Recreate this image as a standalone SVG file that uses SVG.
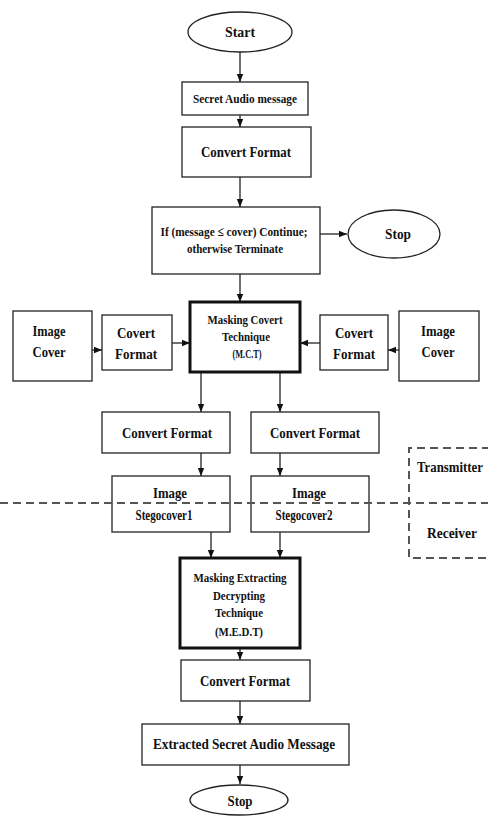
<svg xmlns="http://www.w3.org/2000/svg" width="488" height="816" viewBox="0 0 488 816">
<style>
  .box{fill:#fff;stroke:#222;stroke-width:1.3}
  .thick{fill:#fff;stroke:#111;stroke-width:3}
  .t{font-family:"Liberation Serif","Times New Roman",serif;font-weight:bold;fill:#111;text-anchor:middle}
  .s11{font-size:12px}.s12{font-size:13px}.s14{font-size:14px}.s15{font-size:15px}
  .ln{stroke:#222;stroke-width:1.3;fill:none;marker-end:url(#ah)}
  .dash{stroke:#555;stroke-width:2;fill:none;stroke-dasharray:8 5}
</style>
<defs>
  <marker id="ah" markerUnits="userSpaceOnUse" markerWidth="8" markerHeight="8" viewBox="0 0 8 8" refX="8" refY="4" orient="auto">
    <path d="M0,0.8 L8,4 L0,7.2 Z" fill="#111"/>
  </marker>
</defs>
<rect width="488" height="816" fill="#fff"/>

<g id="connectors">
  <line class="ln" x1="240" y1="52" x2="240" y2="82"/>
  <line class="ln" x1="240" y1="115" x2="240" y2="127"/>
  <line class="ln" x1="240" y1="177" x2="240" y2="207"/>
  <line class="ln" x1="320" y1="234" x2="347" y2="234"/>
  <line class="ln" x1="240" y1="274" x2="240" y2="302"/>
  <line class="ln" x1="92" y1="350" x2="102" y2="350"/>
  <line class="ln" x1="172" y1="343" x2="190" y2="343"/>
  <line class="ln" x1="320" y1="343" x2="300" y2="343"/>
  <line class="ln" x1="399" y1="350" x2="388" y2="350"/>
  <line class="ln" x1="201" y1="373" x2="201" y2="412"/>
  <line class="ln" x1="280" y1="373" x2="280" y2="412"/>
  <line class="ln" x1="201" y1="453" x2="201" y2="476"/>
  <line class="ln" x1="280" y1="453" x2="280" y2="476"/>
  <line class="ln" x1="211" y1="532" x2="211" y2="558"/>
  <line class="ln" x1="280" y1="532" x2="280" y2="558"/>
  <line class="ln" x1="240" y1="648" x2="240" y2="660"/>
  <line class="ln" x1="240" y1="701" x2="240" y2="724"/>
  <line class="ln" x1="240" y1="765" x2="240" y2="784"/>
</g>

<g id="start">
  <ellipse class="box" cx="240" cy="32" rx="52" ry="20"/>
  <text class="t s15" x="240" y="37" textLength="30" lengthAdjust="spacingAndGlyphs">Start</text>
</g>
<g id="secret">
  <rect class="box" x="182" y="82" width="126" height="33"/>
  <text class="t s12" x="245" y="103" textLength="104" lengthAdjust="spacingAndGlyphs">Secret Audio message</text>
</g>
<g id="convert1">
  <rect class="box" x="182" y="127" width="129" height="50"/>
  <text class="t s14" x="246" y="157" textLength="90" lengthAdjust="spacingAndGlyphs">Convert Format</text>
</g>
<g id="decision">
  <rect class="box" x="152" y="207" width="168" height="67"/>
  <text class="t s12" x="234" y="236" textLength="147" lengthAdjust="spacingAndGlyphs">If (message ≤ cover) Continue;</text>
  <text class="t s12" x="235" y="253" textLength="96" lengthAdjust="spacingAndGlyphs">otherwise Terminate</text>
</g>
<g id="stop1">
  <ellipse class="box" cx="394" cy="234" rx="46" ry="24"/>
  <text class="t s15" x="398" y="239" textLength="26" lengthAdjust="spacingAndGlyphs">Stop</text>
</g>
<g id="mct">
  <rect class="thick" x="190" y="302" width="110" height="70"/>
  <text class="t s11" x="245" y="324" textLength="75" lengthAdjust="spacingAndGlyphs">Masking Covert</text>
  <text class="t s11" x="246" y="341" textLength="48" lengthAdjust="spacingAndGlyphs">Technique</text>
  <text class="t s11" x="247" y="358" textLength="29" lengthAdjust="spacingAndGlyphs">(M.C.T)</text>
</g>
<g id="imgcover-left">
  <rect class="box" x="13" y="311" width="79" height="70"/>
  <text class="t s15" x="49" y="336" textLength="33" lengthAdjust="spacingAndGlyphs">Image</text>
  <text class="t s15" x="49" y="357" textLength="33" lengthAdjust="spacingAndGlyphs">Cover</text>
</g>
<g id="covert-left">
  <rect class="box" x="102" y="315" width="70" height="55"/>
  <text class="t s15" x="136" y="338" textLength="38" lengthAdjust="spacingAndGlyphs">Covert</text>
  <text class="t s15" x="136" y="359" textLength="42" lengthAdjust="spacingAndGlyphs">Format</text>
</g>
<g id="covert-right">
  <rect class="box" x="320" y="315" width="68" height="55"/>
  <text class="t s15" x="354" y="338" textLength="38" lengthAdjust="spacingAndGlyphs">Covert</text>
  <text class="t s15" x="354" y="359" textLength="42" lengthAdjust="spacingAndGlyphs">Format</text>
</g>
<g id="imgcover-right">
  <rect class="box" x="399" y="311" width="80" height="70"/>
  <text class="t s15" x="438" y="336" textLength="34" lengthAdjust="spacingAndGlyphs">Image</text>
  <text class="t s15" x="438" y="357" textLength="33" lengthAdjust="spacingAndGlyphs">Cover</text>
</g>
<g id="convert-left">
  <rect class="box" x="102" y="412" width="128" height="41"/>
  <text class="t s14" x="167" y="438" textLength="90" lengthAdjust="spacingAndGlyphs">Convert Format</text>
</g>
<g id="convert-right">
  <rect class="box" x="251" y="412" width="128" height="41"/>
  <text class="t s14" x="315" y="438" textLength="90" lengthAdjust="spacingAndGlyphs">Convert Format</text>
</g>
<g id="stego1">
  <rect class="box" x="112" y="476" width="118" height="56"/>
  <text class="t s15" x="170" y="498" textLength="34" lengthAdjust="spacingAndGlyphs">Image</text>
  <text class="t s15" x="164" y="520" textLength="57" lengthAdjust="spacingAndGlyphs">Stegocover1</text>
</g>
<g id="stego2">
  <rect class="box" x="251" y="476" width="118" height="56"/>
  <text class="t s15" x="309" y="498" textLength="34" lengthAdjust="spacingAndGlyphs">Image</text>
  <text class="t s15" x="304" y="520" textLength="57" lengthAdjust="spacingAndGlyphs">Stegocover2</text>
</g>
<g id="divider">
  <line class="dash" x1="0" y1="503" x2="488" y2="503"/>
  <path class="dash" d="M490,448 H409 V558 H490"/>
  <text class="t s14" x="450" y="472" textLength="66" lengthAdjust="spacingAndGlyphs">Transmitter</text>
  <text class="t s14" x="452" y="538" textLength="50" lengthAdjust="spacingAndGlyphs">Receiver</text>
</g>
<g id="medt">
  <rect class="thick" x="180" y="558" width="120" height="90"/>
  <text class="t s11" x="240" y="582" textLength="93" lengthAdjust="spacingAndGlyphs">Masking Extracting</text>
  <text class="t s11" x="239" y="600" textLength="52" lengthAdjust="spacingAndGlyphs">Decrypting</text>
  <text class="t s11" x="239" y="617" textLength="48" lengthAdjust="spacingAndGlyphs">Technique</text>
  <text class="t s11" x="239" y="636" textLength="48" lengthAdjust="spacingAndGlyphs">(M.E.D.T)</text>
</g>
<g id="convert3">
  <rect class="box" x="181" y="660" width="129" height="41"/>
  <text class="t s14" x="245" y="686" textLength="90" lengthAdjust="spacingAndGlyphs">Convert Format</text>
</g>
<g id="extracted">
  <rect class="box" x="142" y="724" width="207" height="41"/>
  <text class="t s14" x="244" y="749" textLength="182" lengthAdjust="spacingAndGlyphs">Extracted Secret Audio Message</text>
</g>
<g id="stop2">
  <ellipse class="box" cx="239" cy="800" rx="49" ry="15"/>
  <text class="t s15" x="240" y="806" textLength="25" lengthAdjust="spacingAndGlyphs">Stop</text>
</g>
</svg>
